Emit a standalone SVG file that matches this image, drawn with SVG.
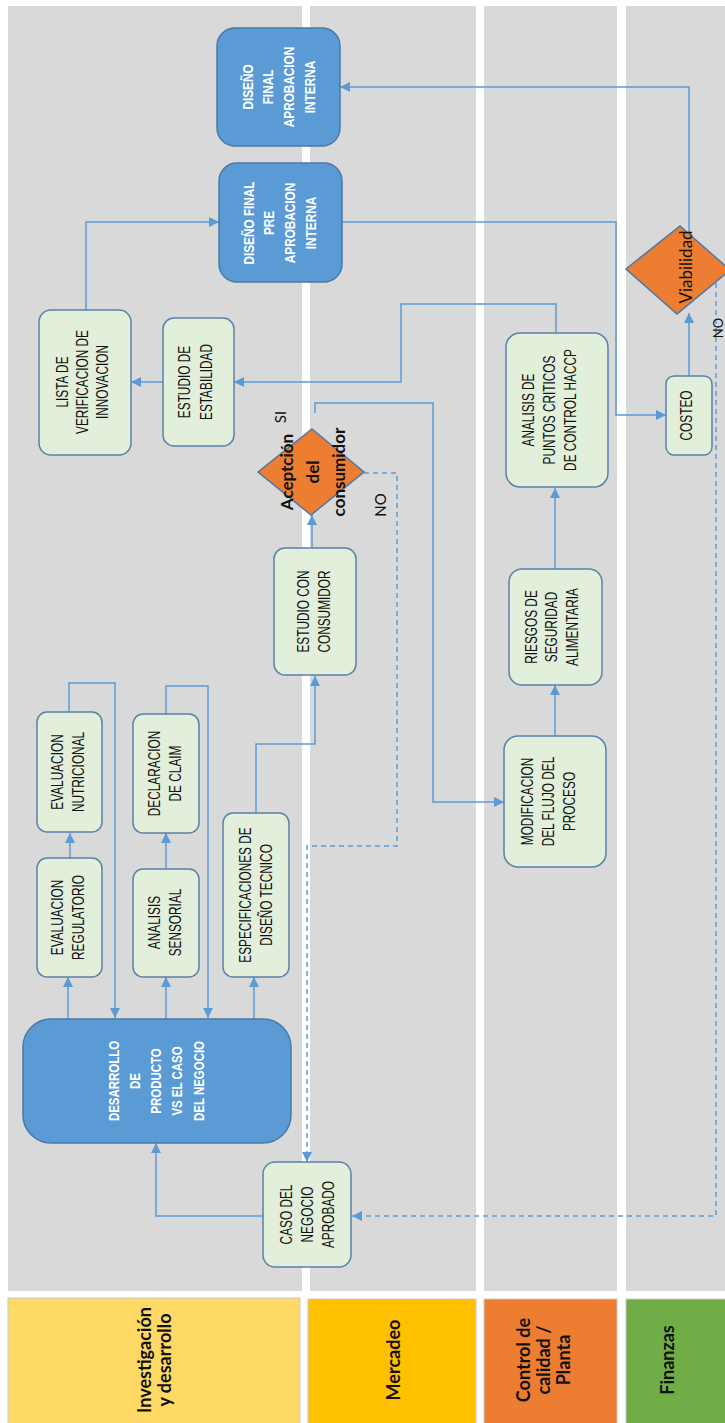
<svg xmlns="http://www.w3.org/2000/svg" width="725" height="1423" viewBox="0 0 725 1423">
  <style>
    .lane{fill:#D9D9D9}
    .hdr{stroke:#C9C9C9;stroke-width:1}
    .box{fill:#E2EFDA;stroke:#5A80AC;stroke-width:1.5}
    .main{fill:#5B9BD5;stroke:#4A78A8;stroke-width:1.5}
    .dec{fill:#ED7D31;stroke:#4A78A8;stroke-width:1.5}
    .t{font-family:"Liberation Sans",Arial,sans-serif;font-size:16px;fill:#111;text-anchor:middle}
    .tw{font-family:"Liberation Sans",Arial,sans-serif;font-size:15.5px;font-weight:bold;fill:#fff;text-anchor:middle}
    .td{font-family:Lato,"Open Sans",sans-serif;font-size:17px;font-weight:bold;fill:#111;text-anchor:middle}
    .tv{font-family:Lato,"Open Sans",sans-serif;font-size:17px;fill:#111;text-anchor:middle}
    .lb{font-family:Lato,"Open Sans",sans-serif;font-size:15px;fill:#111;text-anchor:middle}
    .hd{font-family:Lato,"Open Sans",sans-serif;font-size:18px;font-weight:bold;fill:#111;text-anchor:middle}
    .c{fill:none;stroke:#5B9BD5;stroke-width:1.5}
    .d{stroke-dasharray:5 4}
  </style>
  <defs>
    <marker id="arr" markerUnits="userSpaceOnUse" markerWidth="10" markerHeight="10" refX="10" refY="5" orient="auto">
      <path d="M0,0 L10,5 L0,10 z" fill="#5B9BD5"/>
    </marker>
  </defs>

  <rect width="725" height="1423" fill="#fff"/>

  <!-- swimlanes -->
  <g id="lanes">
    <rect class="lane" x="8" y="6" width="294" height="1285"/>
    <rect class="lane" x="310" y="6" width="166" height="1285"/>
    <rect class="lane" x="484" y="6" width="133" height="1285"/>
    <rect class="lane" x="626" y="6" width="99" height="1285"/>
  </g>

  <!-- lane headers -->
  <g id="headers">
    <rect class="hdr" x="8" y="1298" width="292" height="126" fill="#FFD966"/>
    <rect class="hdr" x="308" y="1299" width="168" height="125" fill="#FFC000"/>
    <rect class="hdr" x="484" y="1299" width="133" height="125" fill="#ED7D31"/>
    <rect class="hdr" x="626" y="1299" width="100" height="125" fill="#70AD47"/>
    <text class="hd" transform="translate(151,1360) rotate(-90)"><tspan x="0" y="0">Investigación</tspan><tspan x="0" dy="20">y desarrollo</tspan></text>
    <text class="hd" transform="translate(400,1360) rotate(-90)">Mercadeo</text>
    <text class="hd" transform="translate(530,1360) rotate(-90)"><tspan x="0" y="0">Control de</tspan><tspan x="0" dy="20">calidad /</tspan><tspan x="0" dy="20">Planta</tspan></text>
    <text class="hd" transform="translate(674,1360) rotate(-90)">Finanzas</text>
  </g>

  <!-- connectors -->
  <g id="connectors">
    <path class="c" d="M86,310 V222 H219" marker-end="url(#arr)"/>
    <path class="c" d="M163,382 H131" marker-end="url(#arr)"/>
    <path class="c" d="M556,333 V304 H401 V382 H234" marker-end="url(#arr)"/>
    <path class="c" d="M342,222 H616 V415 H666" marker-end="url(#arr)"/>
    <path class="c" d="M689,376 V313" marker-end="url(#arr)"/>
    <path class="c" d="M689,234 V87 H340" marker-end="url(#arr)"/>
    <path class="c d" d="M716,283 V1216 H352" marker-end="url(#arr)"/>
    <path class="c" d="M315,413 V403 H433 V802 H504" marker-end="url(#arr)"/>
    <path class="c d" d="M364,473 H397 V846 H307 V1162" marker-end="url(#arr)"/>
    <path class="c" d="M312,548 V515" marker-end="url(#arr)"/>
    <path class="c" d="M256,813 V744 H315 V676" marker-end="url(#arr)"/>
    <path class="c" d="M555,736 V685" marker-end="url(#arr)"/>
    <path class="c" d="M555,569 V488" marker-end="url(#arr)"/>
    <path class="c" d="M263,1216 H156 V1143" marker-end="url(#arr)"/>
    <path class="c" d="M68,1019 V977" marker-end="url(#arr)"/>
    <path class="c" d="M70,858 V833" marker-end="url(#arr)"/>
    <path class="c" d="M69,712 V683 H115 V1018" marker-end="url(#arr)"/>
    <path class="c" d="M166,1019 V977" marker-end="url(#arr)"/>
    <path class="c" d="M166,869 V833" marker-end="url(#arr)"/>
    <path class="c" d="M166,714 V686 H208 V1018" marker-end="url(#arr)"/>
    <path class="c" d="M254,1019 V977" marker-end="url(#arr)"/>
  </g>

  <!-- nodes -->
  <g id="diseno-final">
    <rect class="main" x="217" y="28" width="123" height="118" rx="18"/>
    <text class="tw" transform="translate(252.5,87) rotate(-90) scale(0.76,1)"><tspan x="0" y="0">DISEÑO</tspan><tspan x="0" dy="21">FINAL</tspan><tspan x="0" dy="21">APROBACION</tspan><tspan x="0" dy="21">INTERNA</tspan></text>
  </g>
  <g id="diseno-pre">
    <rect class="main" x="219" y="163" width="123" height="119" rx="18"/>
    <text class="tw" transform="translate(253.5,223) rotate(-90) scale(0.76,1)"><tspan x="0" y="0">DISEÑO FINAL</tspan><tspan x="0" dy="21">PRE</tspan><tspan x="0" dy="21">APROBACION</tspan><tspan x="0" dy="21">INTERNA</tspan></text>
  </g>
  <g id="lista-verificacion">
    <rect class="box" x="39" y="310" width="92" height="145" rx="12"/>
    <text class="t" transform="translate(67.5,382) rotate(-90) scale(0.74,1)"><tspan x="0" y="0">LISTA DE</tspan><tspan x="0" dy="20.5">VERIFICACION DE</tspan><tspan x="0" dy="20.5">INNOVACION</tspan></text>
  </g>
  <g id="estabilidad">
    <rect class="box" x="163" y="318" width="71" height="128" rx="11"/>
    <text class="t" transform="translate(190,382) rotate(-90) scale(0.74,1)"><tspan x="0" y="0">ESTUDIO DE</tspan><tspan x="0" dy="22">ESTABILIDAD</tspan></text>
  </g>
  <g id="aceptacion">
    <polygon class="dec" points="312,429 364,472 311,515 258,472"/>
    <text class="td" transform="translate(293,472) rotate(-90)"><tspan x="0" y="0">Aceptción</tspan><tspan x="0" dy="26">del</tspan><tspan x="0" dy="26">consumidor</tspan></text>
  </g>
  <g id="estudio-consumidor">
    <rect class="box" x="274" y="548" width="82" height="127" rx="11"/>
    <text class="t" transform="translate(308.5,611.5) rotate(-90) scale(0.74,1)"><tspan x="0" y="0">ESTUDIO CON</tspan><tspan x="0" dy="22">CONSUMIDOR</tspan></text>
  </g>
  <g id="eval-nutricional">
    <rect class="box" x="37" y="712" width="65" height="120" rx="10"/>
    <text class="t" transform="translate(62.5,772) rotate(-90) scale(0.74,1)"><tspan x="0" y="0">EVALUACION</tspan><tspan x="0" dy="22">NUTRICIONAL</tspan></text>
  </g>
  <g id="eval-regulatorio">
    <rect class="box" x="37" y="858" width="65" height="119" rx="10"/>
    <text class="t" transform="translate(62.5,917.5) rotate(-90) scale(0.74,1)"><tspan x="0" y="0">EVALUACION</tspan><tspan x="0" dy="22">REGULATORIO</tspan></text>
  </g>
  <g id="declaracion-claim">
    <rect class="box" x="133" y="714" width="66" height="119" rx="10"/>
    <text class="t" transform="translate(159.5,773.5) rotate(-90) scale(0.74,1)"><tspan x="0" y="0">DECLARACION</tspan><tspan x="0" dy="22">DE CLAIM</tspan></text>
  </g>
  <g id="analisis-sensorial">
    <rect class="box" x="133" y="869" width="66" height="108" rx="10"/>
    <text class="t" transform="translate(159.5,922.5) rotate(-90) scale(0.74,1)"><tspan x="0" y="0">ANALISIS</tspan><tspan x="0" dy="22">SENSORIAL</tspan></text>
  </g>
  <g id="especificaciones">
    <rect class="box" x="223" y="813" width="66" height="164" rx="10"/>
    <text class="t" transform="translate(250.5,895) rotate(-90) scale(0.74,1)"><tspan x="0" y="0">ESPECIFICACIONES DE</tspan><tspan x="0" dy="22">DISEÑO TECNICO</tspan></text>
  </g>
  <g id="desarrollo">
    <rect class="main" x="23" y="1019" width="268" height="124" rx="28"/>
    <text class="tw" transform="translate(118.5,1081) rotate(-90) scale(0.74,1)"><tspan x="0" y="0">DESARROLLO</tspan><tspan x="0" dy="21.3">DE</tspan><tspan x="0" dy="21.3">PRODUCTO</tspan><tspan x="0" dy="21.3">VS EL CASO</tspan><tspan x="0" dy="21.3">DEL NEGOCIO</tspan></text>
  </g>
  <g id="caso-negocio">
    <rect class="box" x="263" y="1162" width="88" height="105" rx="12"/>
    <text class="t" transform="translate(291.5,1214.5) rotate(-90) scale(0.74,1)"><tspan x="0" y="0">CASO DEL</tspan><tspan x="0" dy="21.5">NEGOCIO</tspan><tspan x="0" dy="21.5">APROBADO</tspan></text>
  </g>
  <g id="haccp">
    <rect class="box" x="506" y="333" width="102" height="154" rx="14"/>
    <text class="t" transform="translate(533.5,410) rotate(-90) scale(0.74,1)"><tspan x="0" y="0">ANALISIS DE</tspan><tspan x="0" dy="21.5">PUNTOS CRITICOS</tspan><tspan x="0" dy="21.5">DE CONTROL HACCP</tspan></text>
  </g>
  <g id="riesgos">
    <rect class="box" x="509" y="569" width="93" height="116" rx="13"/>
    <text class="t" transform="translate(536.5,627) rotate(-90) scale(0.74,1)"><tspan x="0" y="0">RIESGOS DE</tspan><tspan x="0" dy="21">SEGURIDAD</tspan><tspan x="0" dy="21">ALIMENTARIA</tspan></text>
  </g>
  <g id="modificacion">
    <rect class="box" x="504" y="736" width="102" height="131" rx="14"/>
    <text class="t" transform="translate(532.5,801.5) rotate(-90) scale(0.74,1)"><tspan x="0" y="0">MODIFICACION</tspan><tspan x="0" dy="21.5">DEL FLUJO DEL</tspan><tspan x="0" dy="21.5">PROCESO</tspan></text>
  </g>
  <g id="costeo">
    <rect class="box" x="666" y="376" width="46" height="79" rx="8"/>
    <text class="t" transform="translate(691.5,415.5) rotate(-90) scale(0.74,1)">COSTEO</text>
  </g>
  <g id="viabilidad">
    <polygon class="dec" points="680,226 730,270 677,314 626,269"/>
    <text class="tv" transform="translate(692,267) rotate(-90)">Viabilidad</text>
  </g>

  <!-- branch labels -->
  <g id="labels">
    <text class="lb" transform="translate(286,417) rotate(-90)">SI</text>
    <text class="lb" transform="translate(386,505) rotate(-90)">NO</text>
    <text class="lb" style="font-size:13px" transform="translate(723,328) rotate(-90)">NO</text>
  </g>
</svg>
